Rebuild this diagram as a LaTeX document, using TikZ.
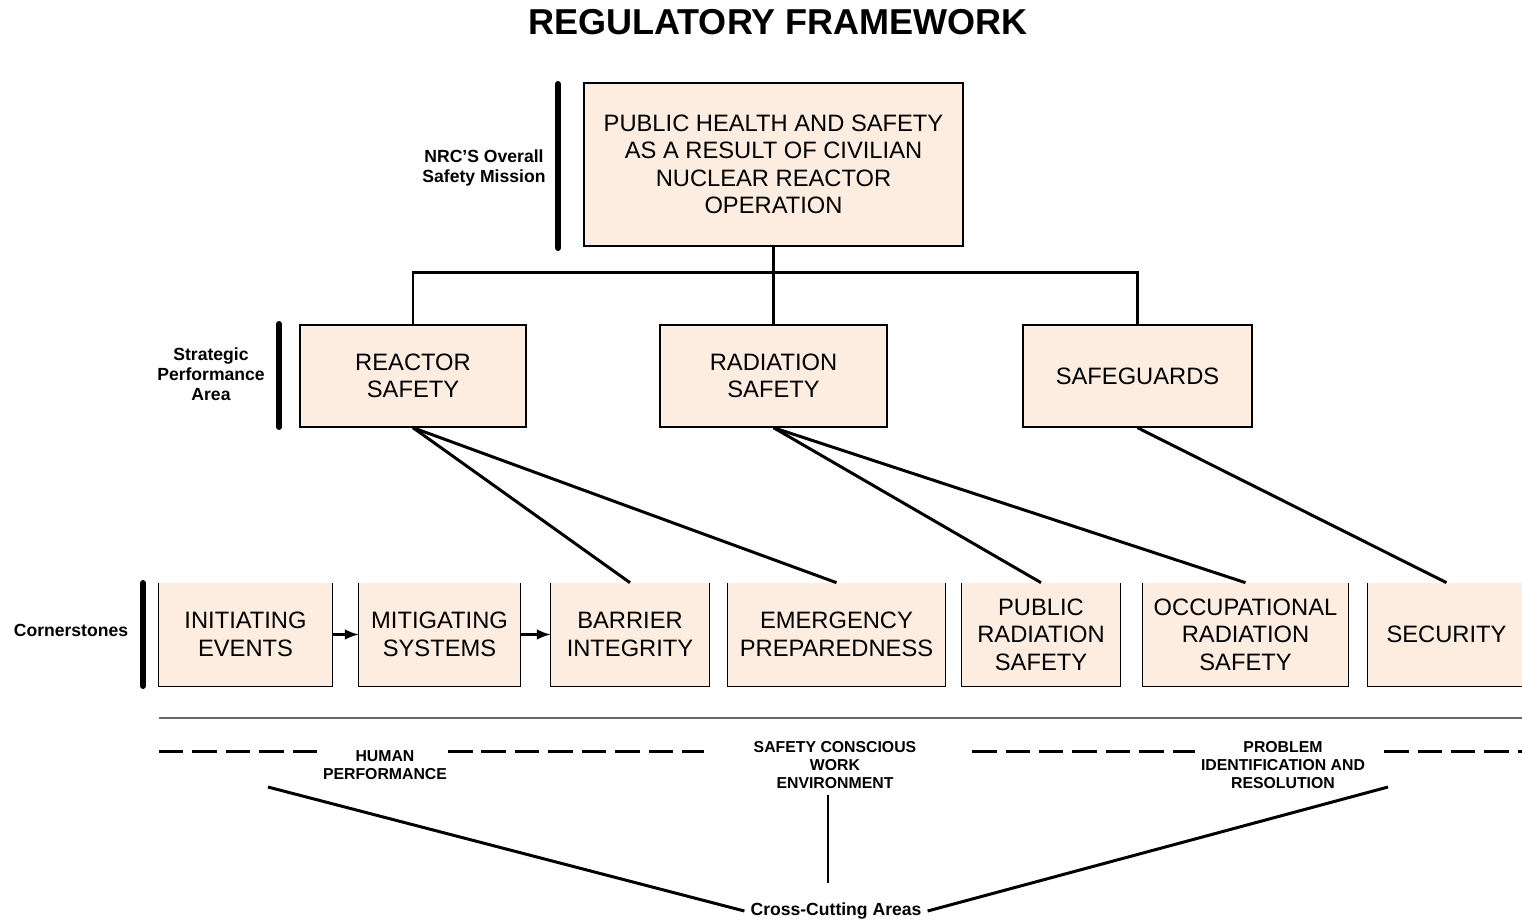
\documentclass[tikz,border=0pt]{standalone}
\usepackage{fontspec}
\setmainfont{Liberation Sans}
\usepackage{xcolor}
\usepackage{tikz}
\usetikzlibrary{shapes,arrows,positioning,calc}
\definecolor{boxfill}{RGB}{253,237,225}
\definecolor{rulegray}{RGB}{105,105,105}

\begin{document}
\begin{tikzpicture}[x=0.02cm, y=-0.02cm,
        mainbox/.style={draw, line width=0.8pt, fill=boxfill, align=center, inner sep=0pt,
            font=\fontsize{13.5}{15.6}\selectfont},
        cornerbox/.style={fill=boxfill, align=center, inner sep=0pt, minimum height=2.06cm,
            font=\fontsize{13.5}{15.6}\selectfont},
        link/.style={line width=1.7pt},
        levelbar/.style={line width=3.4pt, line cap=round},
        sidelabel/.style={font=\bfseries\fontsize{10}{11.3}\selectfont, align=center},
        crosslabel/.style={font=\bfseries\fontsize{9}{10.2}\selectfont, align=center}]
        \useasboundingbox (0,0) rectangle (1522,921);

        % Title
        \node[font=\bfseries\fontsize{20.5}{24}\selectfont] (title) at (778,22) {REGULATORY FRAMEWORK};

        % Mission level
        \node[mainbox, minimum width=7.58cm, minimum height=3.26cm] (mission) at (773.5,164.5)
            {PUBLIC HEALTH AND SAFETY\\AS A RESULT OF CIVILIAN\\NUCLEAR REACTOR\\OPERATION};
        \draw[levelbar] (558,84) -- (558,248);
        \node[sidelabel] (missionlabel) at (484,168) {NRC'S Overall\\Safety Mission};

        % Strategic performance areas
        \node[mainbox, minimum width=4.52cm, minimum height=2.04cm] (reactor) at (413,376) {REACTOR\\SAFETY};
        \node[mainbox, minimum width=4.54cm, minimum height=2.04cm] (radiation) at (773.5,376) {RADIATION\\SAFETY};
        \node[mainbox, minimum width=4.58cm, minimum height=2.04cm] (safeguards) at (1137.5,376) {SAFEGUARDS};
        \draw[levelbar] (279,324) -- (279,427);
        \node[sidelabel] (arealabel) at (211,374) {Strategic\\Performance\\Area};

        \coordinate (hub) at (773.5,272);
        \draw[link] (mission.south) -- (radiation.north);
        \draw[link] (reactor.north) |- (hub) -| (safeguards.north);

        % Cornerstones
        \node[cornerbox, minimum width=3.46cm] (initiating) at (245.5,634.5) {INITIATING\\EVENTS};
        \node[cornerbox, minimum width=3.22cm] (mitigating) at (439.5,634.5) {MITIGATING\\SYSTEMS};
        \node[cornerbox, minimum width=3.16cm] (barrier) at (630,634.5) {BARRIER\\INTEGRITY};
        \node[cornerbox, minimum width=4.34cm] (emergency) at (836.5,634.5) {EMERGENCY\\PREPAREDNESS};
        \node[cornerbox, minimum width=3.16cm] (public) at (1041,634.5) {PUBLIC\\RADIATION\\SAFETY};
        \node[cornerbox, minimum width=4.10cm] (occupational) at (1245.5,634.5) {OCCUPATIONAL\\RADIATION\\SAFETY};
        \node[cornerbox, minimum width=3.14cm] (security) at (1446.5,634.5) {SECURITY};
        \foreach \n in {initiating,mitigating,barrier,emergency,public,occupational,security}
            \draw[line width=0.8pt] (\n.north west) -- (\n.south west) -- (\n.south east) -- (\n.north east);
        \draw[levelbar] (143,583) -- (143,686);
        \node[sidelabel] (cornerlabel) at (71,630) {Cornerstones};

        \draw[link, -latex] (initiating) -- (mitigating);
        \draw[link, -latex] (mitigating) -- (barrier);

        \draw[link] (reactor.south) -- (barrier.north);
        \draw[link] (reactor.south) -- (emergency.north);
        \draw[link] (radiation.south) -- (public.north);
        \draw[link] (radiation.south) -- (occupational.north);
        \draw[link] (safeguards.south) -- (security.north);

        % Cross-cutting areas
        \draw[rulegray, line width=1.1pt] (159,718) -- (1522,718);
        \node[crosslabel] (human) at (385,765) {HUMAN\\PERFORMANCE};
        \node[crosslabel] (scwe) at (835,765) {SAFETY CONSCIOUS\\WORK\\ENVIRONMENT};
        \node[crosslabel] (pir) at (1283,765) {PROBLEM\\IDENTIFICATION AND\\RESOLUTION};
        \begin{scope}[line width=1.7pt, dash pattern=on 0.49cm off 0.18cm]
            \draw (159,751) -- (323,751);
            \draw (448,751) -- (704,751);
            \draw (972,751) -- (1195,751);
            \draw (1384,751) -- (1522,751);
        \end{scope}

        \node[font=\bfseries\fontsize{10}{12}\selectfont] (crosscut) at (836,911) {Cross-Cutting Areas};
        \coordinate (humanend) at (268,787);
        \coordinate (pirend) at (1388,787);
        \coordinate (scweend) at (828,883);
        \draw[link] (humanend) -- (crosscut.west);
        \draw[link] (pirend) -- (crosscut.east);
        \draw[line width=1.4pt] (scwe.south -| scweend) -- (scweend);
    \end{tikzpicture}
\end{document}
